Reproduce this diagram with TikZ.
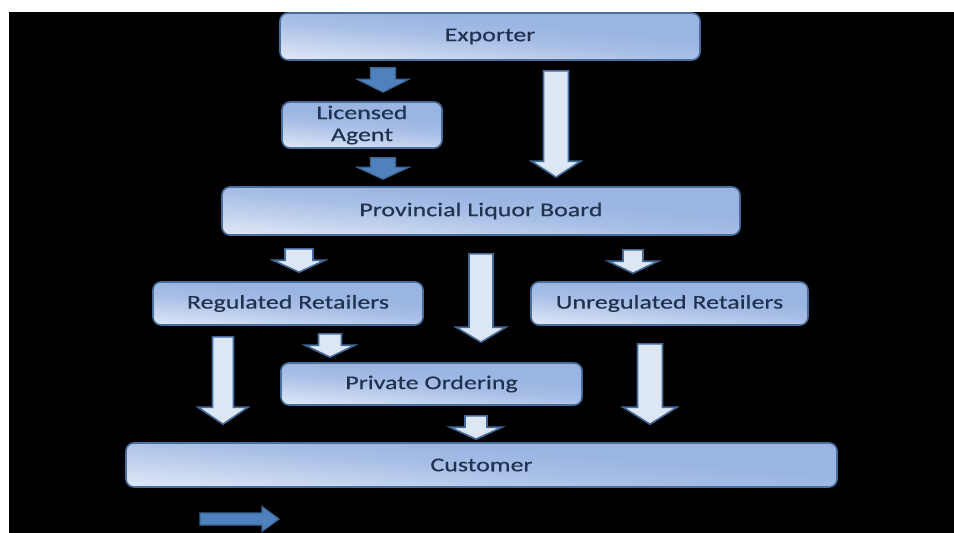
\documentclass[tikz,border=0pt]{standalone}
\usepackage{fontspec}
\newfontfamily\chartfont[FakeStretch=1.33,FakeBold=0.4]{Carlito}
\usetikzlibrary{calc}
\definecolor{boxlight}{HTML}{DCE5F5}
\definecolor{boxdark}{HTML}{9AB5E2}
\definecolor{boxline}{HTML}{4A6E9C}
\definecolor{boxtext}{HTML}{1F3350}
\definecolor{arrowfill}{HTML}{DDE7F3}
\definecolor{arrowline}{HTML}{41699A}
\definecolor{darkfill}{HTML}{4F81BD}
\definecolor{darkline}{HTML}{3C6695}
\pgfdeclareverticalshading{boxshade}{100bp}{color(0bp)=(boxlight); color(25bp)=(boxlight); color(48bp)=(boxdark!80!boxlight); color(60bp)=(boxdark); color(100bp)=(boxdark)}
\begin{document}
\begin{tikzpicture}[x=1pt,y=-1pt,
	box/.style={draw=boxline, line width=1.6pt, rounded corners=8pt, shade, shading=boxshade, shading angle=-5, inner sep=0pt, text=boxtext, font=\chartfont\fontsize{19.5}{22}\selectfont, align=center},
	light/.style={draw=arrowline, fill=arrowfill, line width=1.6pt},
	dark/.style={draw=darkline, fill=darkfill, line width=1.2pt},
	down/.style args={#1/#2/#3}{to path={let \p1=(\tikztostart), \p2=(\tikztotarget) in
		(\x1-0.5*#1pt,\y1) -- (\x1+0.5*#1pt,\y1) -- (\x1+0.5*#1pt,\y2+#3pt) -- (\x1+0.5*#2pt,\y2+#3pt) -- (\x1,\y2)
		-- (\x1-0.5*#2pt,\y2+#3pt) -- (\x1-0.5*#1pt,\y2+#3pt) -- cycle}},
	right/.style args={#1/#2/#3}{to path={let \p1=(\tikztostart), \p2=(\tikztotarget) in
		(\x1,\y1-0.5*#1pt) -- (\x1,\y1+0.5*#1pt) -- (\x2-#3pt,\y1+0.5*#1pt) -- (\x2-#3pt,\y1+0.5*#2pt) -- (\x2,\y1)
		-- (\x2-#3pt,\y1-0.5*#2pt) -- (\x2-#3pt,\y1-0.5*#1pt) -- cycle}}]
	\fill[white] (0,0) rectangle (954,533);
	\fill[black] (9,12) rectangle (954,533);
	\node[box, minimum width=420pt, minimum height=47pt] (exporter) at (490,36.5) {Exporter};
	\node[box, minimum width=160pt, minimum height=46pt] (agent) at (362,125) {Licensed\\Agent};
	\node[box, minimum width=518pt, minimum height=48pt] (board) at (481,211) {Provincial Liquor Board};
	\node[box, minimum width=270pt, minimum height=43pt] (regulated) at (288,303.5) {Regulated Retailers};
	\node[box, minimum width=277pt, minimum height=43pt] (unregulated) at (669.5,303.5) {Unregulated Retailers};
	\node[box, minimum width=301pt, minimum height=42pt] (private) at (431.5,384) {Private Ordering};
	\node[box, minimum width=711pt, minimum height=44pt] (customer) at (481.5,465) {Customer};
	\draw[dark, down=25/52/13] ($(383,0 |- exporter.south)+(0,7)$) to ($(383,0 |- agent.north)+(0,-9)$);
	\draw[dark, down=25/52/12] ($(383,0 |- agent.south)+(0,9)$) to ($(383,0 |- board.north)+(0,-7)$);
	\draw[light, down=25/49/16] ($(556,0 |- exporter.south)+(0,10)$) to ($(556,0 |- board.north)+(0,-9)$);
	\draw[light, down=28/52/12] ($(299,0 |- board.south)+(0,13)$) to ($(299,0 |- regulated.north)+(0,-9)$);
	\draw[light, down=24/50/15] ($(481,0 |- board.south)+(0,18)$) to ($(481,0 |- private.north)+(0,-20)$);
	\draw[light, down=20/50/12] ($(633,0 |- board.south)+(0,14)$) to ($(633,0 |- unregulated.north)+(0,-8)$);
	\draw[light, down=25/54/17] ($(650,0 |- unregulated.south)+(0,18)$) to ($(650,0 |- customer.north)+(0,-18)$);
	\draw[light, down=23/50/12] ($(330,0 |- regulated.south)+(0,8)$) to ($(330,0 |- private.north)+(0,-5)$);
	\draw[light, down=21/50/17] ($(223,0 |- regulated.south)+(0,11)$) to ($(223,0 |- customer.north)+(0,-18)$);
	\draw[light, down=22/52/12] ($(476,0 |- private.south)+(0,10)$) to ($(476,0 |- customer.north)+(0,-3)$);
	\coordinate (legstart) at (200,519);
	\coordinate (legend) at (279,519);
	\draw[dark, right=12/25/17] (legstart) to (legend);
\end{tikzpicture}
\end{document}
